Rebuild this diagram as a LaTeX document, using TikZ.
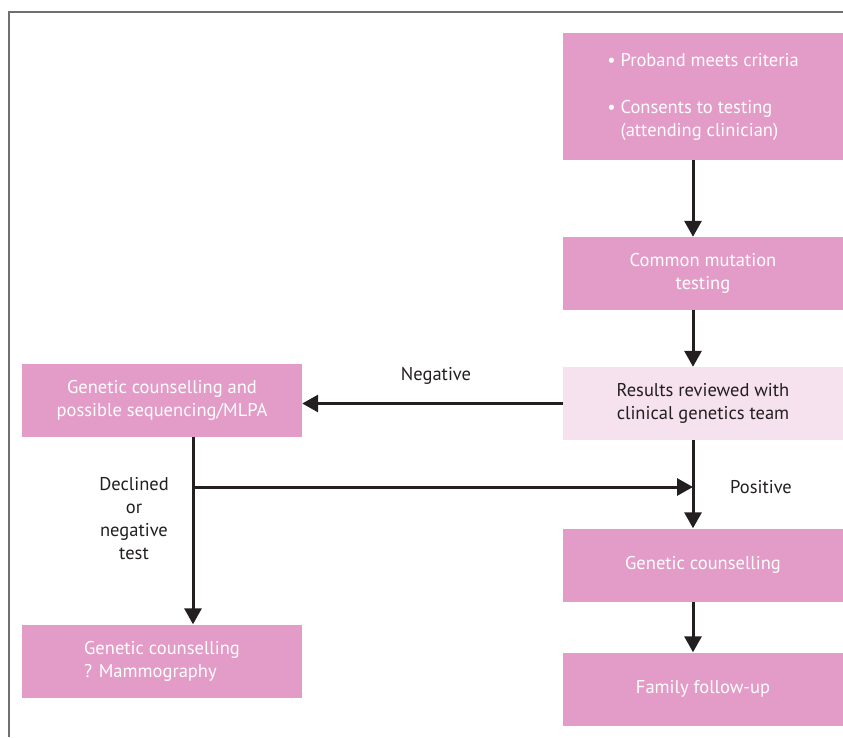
\documentclass[tikz,border=0pt]{standalone}
\usepackage{fontspec}
\setmainfont{PT Sans}
\usetikzlibrary{arrows.meta}
\definecolor{boxpink}{HTML}{E39CC7}
\definecolor{palepink}{HTML}{F6E1EE}
\definecolor{inkgray}{HTML}{231F20}
\definecolor{framegray}{HTML}{707070}

\begin{document}
\begin{tikzpicture}[x=1pt,y=-1pt,
    every node/.style={font=\fontsize{18.5}{23}\selectfont},
    box/.style={rectangle, fill=boxpink, text=white, minimum width=280pt, minimum height=73pt, inner sep=0pt, align=center},
    link/.style={line width=3pt, draw=inkgray, -{Stealth[inset=0pt,length=16pt,width=17pt]}},
    lbl/.style={text=inkgray, align=center}]
    \useasboundingbox (0,0) rectangle (843,737);
    \def\colL{193};
    \def\colR{693};
    % frame
    \draw[framegray, line width=1.2pt] (9,737) -- (9,12) -- (843,12);
    % right column
    \node[box, minimum height=127pt, align=left] (prob) at (703,96.5) {• Proband meets criteria\\[24pt]• Consents to testing\\\phantom{• }(attending clinician)};
    \node[box] (mut) at (703,273.5) {Common mutation\\testing};
    \node[box, fill=palepink, text=inkgray] (res) at (703,403.5) {Results reviewed with\\clinical genetics team};
    \node[box] (gc) at (703,565) {Genetic counselling};
    \node[box] (fam) at (703,689) {Family follow-up};
    % left column
    \node[box] (seq) at (162,400.5) {Genetic counselling and\\possible sequencing/MLPA};
    \node[box, align=left] (mam) at (162,661) {Genetic counselling\\? Mammography};
    \coordinate (split) at (\colL,487);
    \coordinate (join) at (\colR,487);
    % connectors
    \draw[link] (prob.south -| join) -- (mut.north -| join);
    \draw[link] (mut.south -| join) -- (res.north -| join);
    \draw[link] (res.south -| join) -- (gc.north -| join);
    \draw[link] (gc.south -| join) -- (fam.north -| join);
    \draw[link] (res.west) -- (res.west -| seq.east);
    \draw[link] (seq.south -| split) -- (mam.north -| split);
    \draw[link] (split) -- (join);
    % labels
    \node[lbl] (neg) at (436,376) {Negative};
    \node[lbl] (pos) at (761,487) {Positive};
    \node[lbl] (dec) at (134,519) {Declined\\or\\negative\\test};
\end{tikzpicture}
\end{document}
